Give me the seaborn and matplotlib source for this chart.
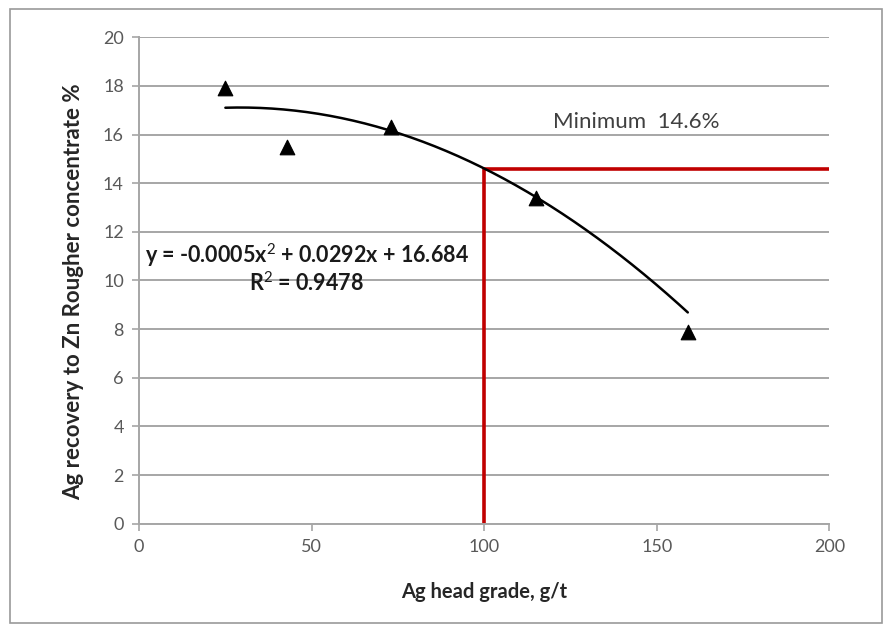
import numpy as np
import pandas as pd
import matplotlib
matplotlib.use("Agg")
import matplotlib.pyplot as plt
from matplotlib.patches import Rectangle
import seaborn as sns

# Measured Ag head grade (g/t) and Ag recovery to Zn rougher concentrate (%)
head_grade = [25, 43, 73, 115, 159]
recovery = [17.9, 15.5, 16.3, 13.4, 7.9]

# Polynomial trendline coefficients (x^2, x, constant) as stated on the chart
trend_coef = [-0.0005, 0.0292, 16.684]

# Cut-off: minimum recovery at the 100 g/t head grade
cutoff_grade = 100
min_recovery = 14.6

x_ticks = [0, 50, 100, 150, 200]
y_ticks = [0, 2, 4, 6, 8, 10, 12, 14, 16, 18, 20]

equation_label = "y = -0.0005x$^2$ + 0.0292x + 16.684"
r2_label = "R$^2$ = 0.9478"
minimum_label = "Minimum  14.6%"

sns.set_theme(style="white")
plt.rcParams["font.family"] = ["Lato", "DejaVu Sans"]
plt.rcParams["mathtext.fontset"] = "custom"
plt.rcParams["mathtext.rm"] = "Lato"
plt.rcParams["mathtext.bf"] = "Lato:bold"

df = pd.DataFrame({"grade": head_grade, "recovery": recovery})

xs = np.linspace(min(head_grade), max(head_grade), 200)
trend = pd.DataFrame({"grade": xs, "recovery": np.polyval(trend_coef, xs)})

fig = plt.figure(figsize=(8.86, 6.31), dpi=100)
ax = fig.add_axes([0.157, 0.170, 0.779, 0.771])

grid_color = "#a6a6a6"
ax.set_axisbelow(True)
ax.yaxis.grid(True, color=grid_color, linewidth=1.4)
ax.xaxis.grid(False)

sns.lineplot(data=trend, x="grade", y="recovery", ax=ax, color="black",
             linewidth=1.8, estimator=None, zorder=3)

cut = pd.DataFrame({"grade": [cutoff_grade, cutoff_grade, 200],
                    "recovery": [0, min_recovery, min_recovery]})
sns.lineplot(data=cut, x="grade", y="recovery", ax=ax, color="#c00000",
             linewidth=2.6, sort=False, estimator=None, zorder=2)

sns.scatterplot(data=df, x="grade", y="recovery", ax=ax, marker="^",
                s=110, color="black", edgecolor="black", zorder=4)

ax.set_xlim(0, 200)
ax.set_ylim(0, 20)
ax.set_xticks(x_ticks)
ax.set_yticks(y_ticks)

for side in ["top", "right"]:
    ax.spines[side].set_visible(False)
for side in ["left", "bottom"]:
    ax.spines[side].set_color(grid_color)
    ax.spines[side].set_linewidth(1.4)

ax.tick_params(axis="both", which="major", direction="out", length=5,
               width=1.2, color=grid_color, labelsize=13,
               labelcolor="#595959", pad=6)
ax.tick_params(axis="y", left=True)
ax.tick_params(axis="x", bottom=True)

ax.set_xlabel("Ag head grade, g/t", fontsize=14.5, fontweight="bold",
              color="#262626")
ax.set_ylabel("Ag recovery to Zn Rougher concentrate %", fontsize=16,
              fontweight="bold", color="#262626")
ax.xaxis.set_label_coords(0.5, -0.12)
ax.yaxis.set_label_coords(-0.080, 0.477)

ax.text(48.5, 11.05, equation_label, fontsize=15.5, fontweight="bold",
        ha="center", va="center", color="#1a1a1a")
ax.text(48.5, 9.9, r2_label, fontsize=15.5, fontweight="bold",
        ha="center", va="center", color="#1a1a1a")
ax.text(144, 16.5, minimum_label, fontsize=16, ha="center", va="center",
        color="#404040")

# Chart-area border
fig.patches.append(Rectangle((10 / 886, 8 / 631), 872 / 886, 614 / 631,
                             transform=fig.transFigure, fill=False,
                             edgecolor="#9a9a9a", linewidth=1.2))

fig.savefig("out.png", dpi=100)
